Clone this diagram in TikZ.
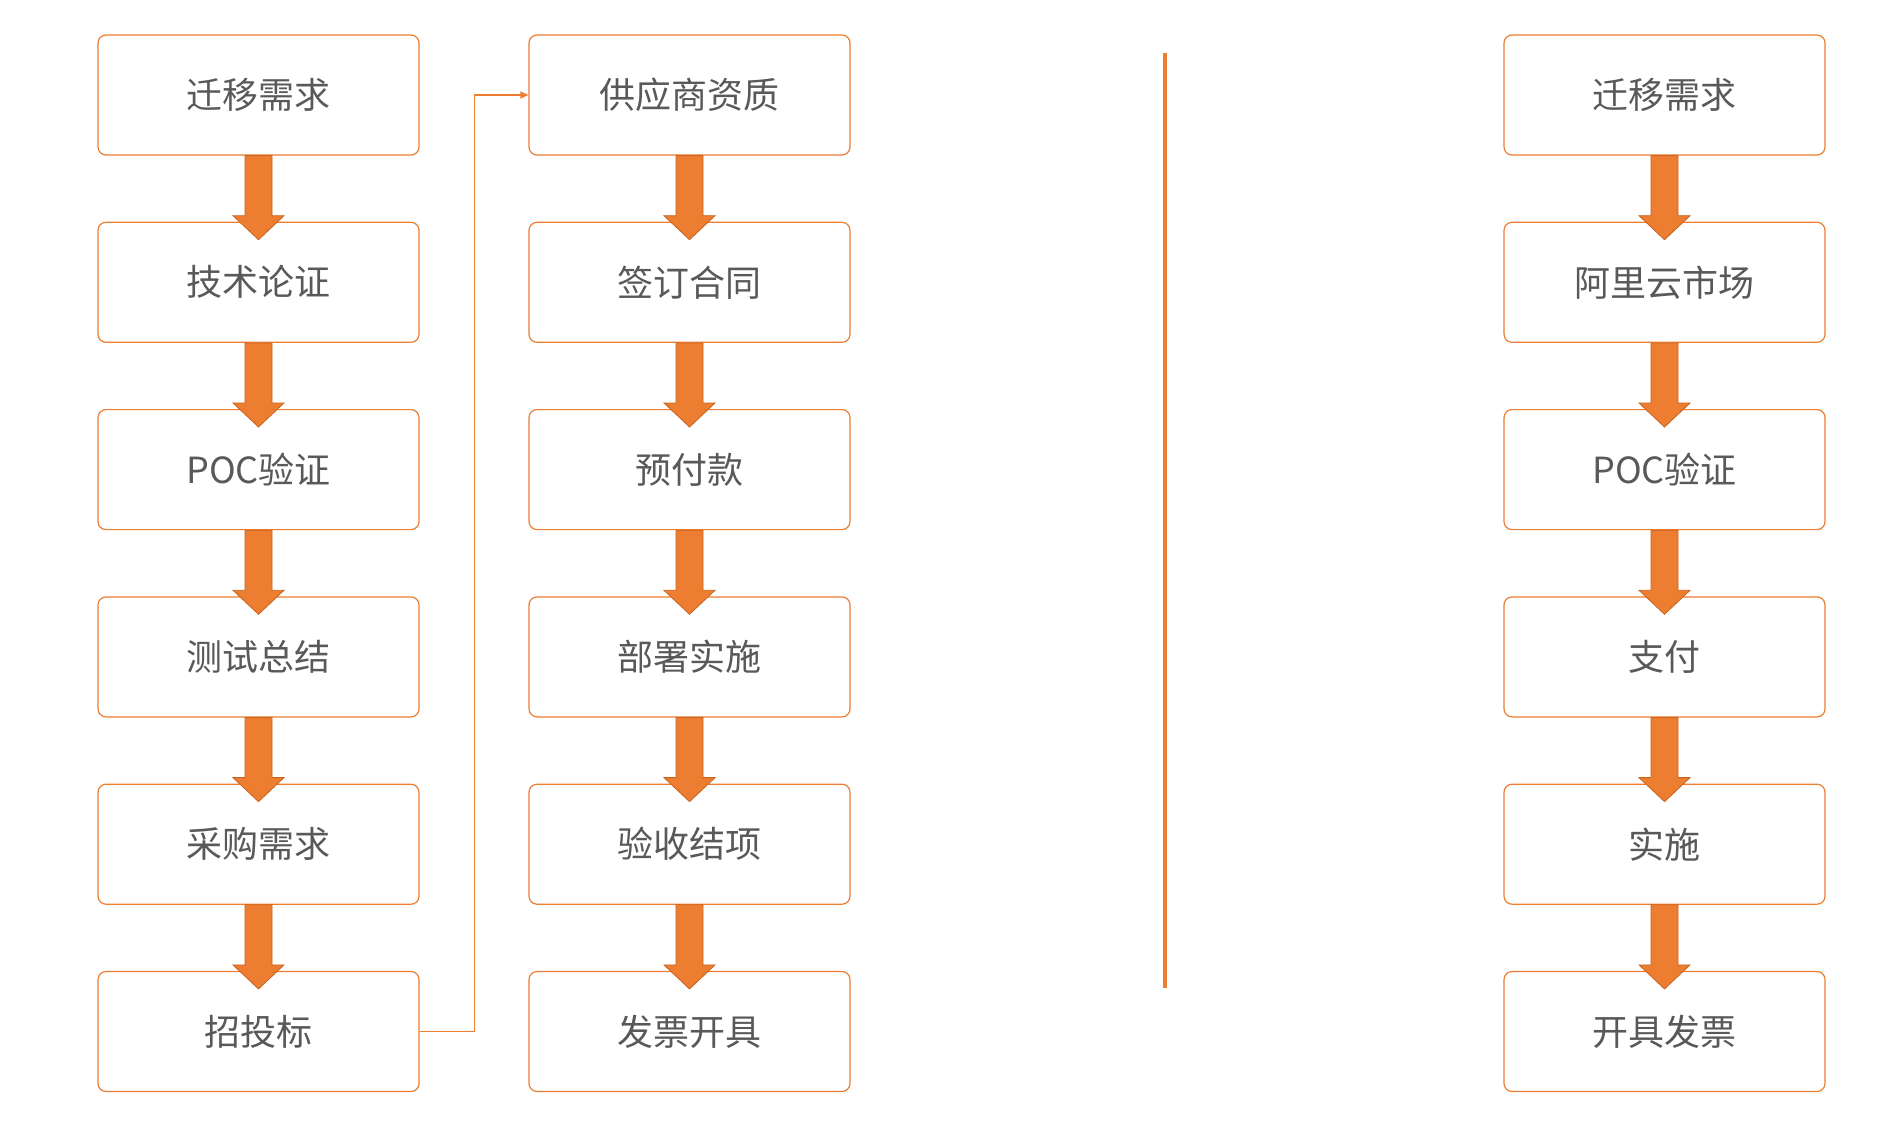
\documentclass[tikz,border=0pt]{standalone}
\usepackage{fontspec}
\setmainfont{Noto Sans CJK SC}
\usepackage{tikz}
\usetikzlibrary{calc,arrows.meta}

\definecolor{orangeline}{HTML}{ED7D31}
\definecolor{orangedark}{HTML}{C8641E}
\definecolor{textgray}{HTML}{595959}

\tikzset{
  stepbox/.style={draw=orangeline, line width=0.6pt, rounded corners=4pt,
    fill=white, minimum width=160.5pt, minimum height=60pt,
    text=textgray, font=\fontsize{18}{20}\selectfont},
  blockarrow/.style={fill=orangeline, draw=orangedark, line width=0.4pt},
  linkline/.style={draw=orangeline, line width=0.6pt,
    -{Triangle[length=4pt,width=3.5pt]}},
  sepline/.style={draw=orangeline, line width=2pt}
}

% block arrow from the bottom of #1 into the top of #2
\newcommand{\flowarrow}[2]{%
  \draw[blockarrow] ($(#1.south)+(-13.5,0)$) -- ($(#2.north)+(-13.5,-6)$)
    -- ($(#2.north)+(-25.5,-6)$) -- ($(#2.north)+(0,18)$)
    -- ($(#2.north)+(25.5,-6)$) -- ($(#2.north)+(13.5,-6)$)
    -- ($(#1.south)+(13.5,0)$) -- cycle;}

\begin{document}
\begin{tikzpicture}[x=0.5pt,y=-0.5pt]
    \useasboundingbox (0,0) rectangle (1904,1134);

    % traditional procurement
    \node[stepbox] (a1) at (258.5,95) {迁移需求};
    \node[stepbox] (a2) at (258.5,282.3) {技术论证};
    \node[stepbox] (a3) at (258.5,469.6) {POC验证};
    \node[stepbox] (a4) at (258.5,656.9) {测试总结};
    \node[stepbox] (a5) at (258.5,844.2) {采购需求};
    \node[stepbox] (a6) at (258.5,1031.5) {招投标};

    \node[stepbox] (b1) at (689.5,95) {供应商资质};
    \node[stepbox] (b2) at (689.5,282.3) {签订合同};
    \node[stepbox] (b3) at (689.5,469.6) {预付款};
    \node[stepbox] (b4) at (689.5,656.9) {部署实施};
    \node[stepbox] (b5) at (689.5,844.2) {验收结项};
    \node[stepbox] (b6) at (689.5,1031.5) {发票开具};

    % marketplace
    \node[stepbox] (c1) at (1664.5,95) {迁移需求};
    \node[stepbox] (c2) at (1664.5,282.3) {阿里云市场};
    \node[stepbox] (c3) at (1664.5,469.6) {POC验证};
    \node[stepbox] (c4) at (1664.5,656.9) {支付};
    \node[stepbox] (c5) at (1664.5,844.2) {实施};
    \node[stepbox] (c6) at (1664.5,1031.5) {开具发票};

    \flowarrow{a1}{a2}
    \flowarrow{a2}{a3}
    \flowarrow{a3}{a4}
    \flowarrow{a4}{a5}
    \flowarrow{a5}{a6}

    \flowarrow{b1}{b2}
    \flowarrow{b2}{b3}
    \flowarrow{b3}{b4}
    \flowarrow{b4}{b5}
    \flowarrow{b5}{b6}

    \flowarrow{c1}{c2}
    \flowarrow{c2}{c3}
    \flowarrow{c3}{c4}
    \flowarrow{c4}{c5}
    \flowarrow{c5}{c6}

    \draw[linkline] (a6.east) -- ++(55,0) |- (b1.west);

    % divider
    \coordinate (top) at (1165,53);
    \coordinate (bot) at (1165,988);
    \draw[sepline] (top) -- (bot);
\end{tikzpicture}
\end{document}
